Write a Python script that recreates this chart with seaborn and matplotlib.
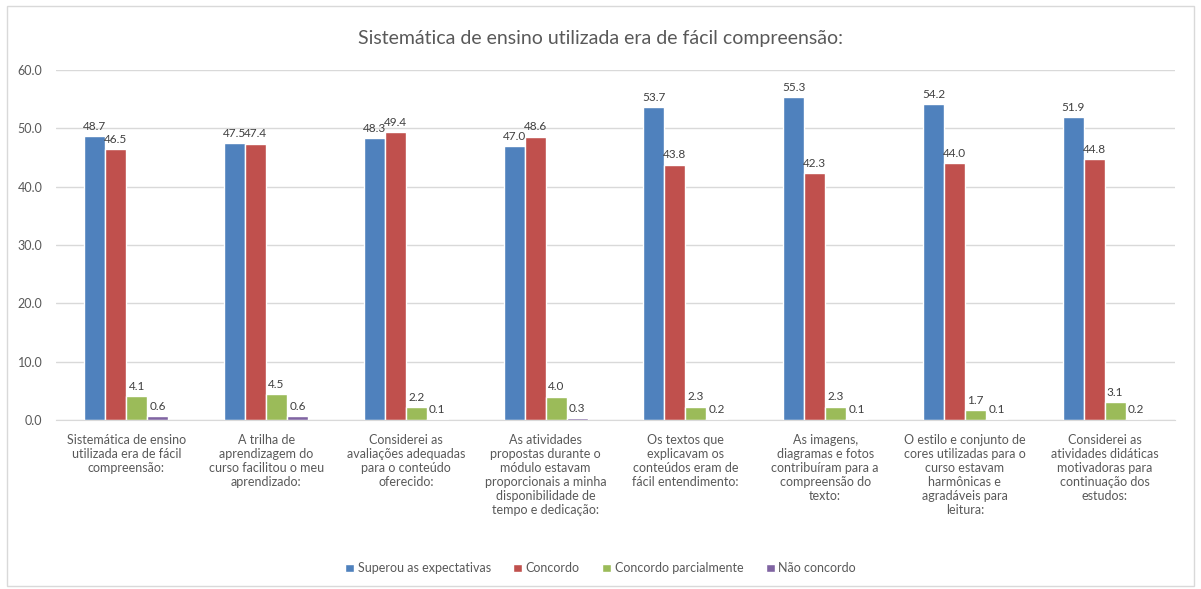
import pandas as pd
import seaborn as sns
import matplotlib.pyplot as plt
from matplotlib.patches import Rectangle

categorias = [
    "Sistemática de ensino\nutilizada era de fácil\ncompreensão:",
    "A trilha de\naprendizagem do\ncurso facilitou o meu\naprendizado:",
    "Considerei as\navaliações adequadas\npara o conteúdo\noferecido:",
    "As atividades\npropostas durante o\nmódulo estavam\nproporcionais a minha\ndisponibilidade de\ntempo e dedicação:",
    "Os textos que\nexplicavam os\nconteúdos eram de\nfácil entendimento:",
    "As imagens,\ndiagramas e fotos\ncontribuíram para a\ncompreensão do\ntexto:",
    "O estilo e conjunto de\ncores utilizadas para o\ncurso estavam\nharmônicas e\nagradáveis para\nleitura:",
    "Considerei as\natividades didáticas\nmotivadoras para\ncontinuação dos\nestudos:",
]
series = ["Superou as expectativas", "Concordo", "Concordo parcialmente", "Não concordo"]
superou = [48.7, 47.5, 48.3, 47.0, 53.7, 55.3, 54.2, 51.9]
concordo = [46.5, 47.4, 49.4, 48.6, 43.8, 42.3, 44.0, 44.8]
parcial = [4.1, 4.5, 2.2, 4.0, 2.3, 2.3, 1.7, 3.1]
nao = [0.6, 0.6, 0.1, 0.3, 0.2, 0.1, 0.1, 0.2]
cores = ["#4F81BD", "#C0504D", "#9BBB59", "#8064A2"]

rows = []
for s, vals in zip(series, [superou, concordo, parcial, nao]):
    for c, v in zip(categorias, vals):
        rows.append({"cat": c, "serie": s, "valor": v})
df = pd.DataFrame(rows)

sns.set_style("white")
plt.rcParams["font.family"] = ["Lato", "DejaVu Sans"]

fig = plt.figure(figsize=(12.01, 5.89), dpi=100)
ax = fig.add_axes([0.047, 0.287, 0.931, 0.594])

sns.barplot(data=df, x="cat", y="valor", hue="serie", palette=cores,
            width=0.6, gap=0, saturation=1, ax=ax, legend=True, errorbar=None)

for cont in ax.containers:
    ax.bar_label(cont, fmt="%.1f", fontsize=8.5, color="#404040", padding=3)

ax.set_ylim(0, 60)
ax.set_yticks(range(0, 61, 10))
ax.set_yticklabels([f"{v:.1f}" for v in range(0, 61, 10)], fontsize=9, color="#595959")
ax.set_xlim(-0.5, len(categorias) - 0.5)
ax.tick_params(axis="x", labelsize=9, labelcolor="#595959", length=0, pad=10)
ax.tick_params(axis="y", length=0, pad=10)
ax.set_xlabel("")
ax.set_ylabel("")
ax.grid(axis="y", color="#D9D9D9", linewidth=1)
ax.set_axisbelow(True)
for side in ["top", "right", "left"]:
    ax.spines[side].set_visible(False)
ax.spines["bottom"].set_color("#D9D9D9")

fig.text(0.5, 0.935, "Sistemática de ensino utilizada era de fácil compreensão:",
         ha="center", va="center", fontsize=14, color="#595959")

handles, labels = ax.get_legend_handles_labels()
ax.legend_.remove()
fig.legend(handles, labels, loc="center", bbox_to_anchor=(0.5, 0.035), ncol=4,
           frameon=False, fontsize=9, labelcolor="#595959", handlelength=0.7,
           handleheight=0.7, handletextpad=0.3, columnspacing=1.8)

fig.patches.append(Rectangle((0.006, 0.005), 0.988, 0.985, transform=fig.transFigure,
                             fill=False, edgecolor="#D9D9D9", linewidth=1))

fig.savefig("out.png", dpi=100)
